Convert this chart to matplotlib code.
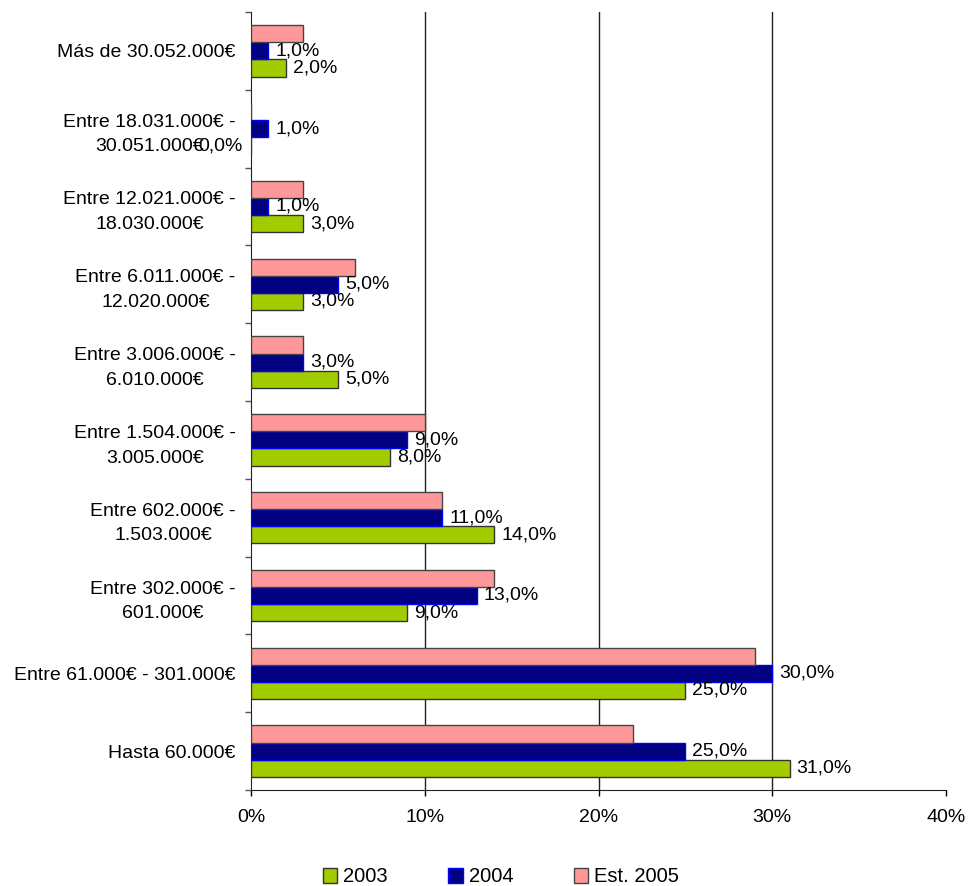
import matplotlib
matplotlib.use("Agg")
import matplotlib.pyplot as plt
import numpy as np
from matplotlib.ticker import FixedLocator, FuncFormatter

plt.rcParams['font.family'] = ['Liberation Sans', 'DejaVu Sans']

categories = [
    "Hasta 60.000€",
    "Entre 61.000€ - 301.000€",
    "Entre 302.000€ -\n601.000€",
    "Entre 602.000€ -\n1.503.000€",
    "Entre 1.504.000€ -\n3.005.000€",
    "Entre 3.006.000€ -\n6.010.000€",
    "Entre 6.011.000€ -\n12.020.000€",
    "Entre 12.021.000€ -\n18.030.000€",
    "Entre 18.031.000€ -\n30.051.000€",
    "Más de 30.052.000€",
]
series_names = ["2003", "2004", "Est. 2005"]
v2003 = [31, 25, 9, 14, 8, 5, 3, 3, 0, 2]
v2004 = [25, 30, 13, 11, 9, 3, 5, 1, 1, 1]
v2005 = [22, 29, 14, 11, 10, 3, 6, 3, 0, 3]
xticks = [0, 10, 20, 30, 40]

colors = ["#A2CC00", "#000080", "#FF9999"]
edges = ["#333333", "#0000FF", "#444444"]

fig = plt.figure(figsize=(9.69, 8.86), dpi=100)
ax = fig.add_axes([251/969, 1-790/886, (946-251)/969, (790-12)/886])

y = np.arange(len(categories))
h = 0.22
offsets = [-h, 0, h]
data = [v2003, v2004, v2005]
bars = []
for s, (vals, off) in enumerate(zip(data, offsets)):
    b = ax.barh(y + off, vals, height=h, color=colors[s], edgecolor=edges[s],
                linewidth=1.0, label=series_names[s], zorder=3)
    bars.append(b)

# data labels for 2003 and 2004
for s in [0, 1]:
    for i, v in enumerate(data[s]):
        yy = y[i] + offsets[s]
        txt = f"{v:.1f}".replace('.', ',') + "%"
        if v == 0:
            ax.annotate(txt, (0, yy), xytext=(-6, 0),
                        textcoords='offset points', ha='right', va='center',
                        fontsize=14, zorder=5, annotation_clip=False)
        else:
            ax.annotate(txt, (v, yy), xytext=(5, 0),
                        textcoords='offset points', ha='left', va='center',
                        fontsize=14, zorder=5, annotation_clip=False)

ax.set_xlim(0, 40)
ax.set_ylim(-0.5, len(categories) - 0.5)
ax.set_xticks(xticks)
ax.xaxis.set_major_formatter(FuncFormatter(lambda x, p: f"{int(x)}%"))
ax.set_yticks(y)
ax.set_yticklabels(categories)
for lbl in ax.get_yticklabels():
    lbl.set_multialignment('center')
    lbl.set_linespacing(1.6)
ax.yaxis.set_minor_locator(FixedLocator(np.arange(-0.5, len(categories), 1.0)))
ax.tick_params(axis='y', which='major', length=0, pad=11, labelsize=14)
ax.tick_params(axis='y', which='minor', length=4, width=1, color='#555555')
ax.tick_params(axis='x', which='major', length=4, width=1, pad=10, labelsize=14)

ax.grid(axis='x', color='#222222', linewidth=1.0, zorder=0)
ax.set_axisbelow(True)
gl = ax.get_xgridlines()
gl[0].set_visible(False)
gl[-1].set_visible(False)

for sp in ['top', 'right']:
    ax.spines[sp].set_visible(False)
ax.spines['left'].set_color('#222222')
ax.spines['bottom'].set_color('#222222')

fig.legend(handles=bars, labels=series_names, loc='center',
           bbox_to_anchor=(501/969, 1-877/886), ncol=3, frameon=False,
           fontsize=14.5, handlelength=0.7, handleheight=0.7, handletextpad=0.3,
           columnspacing=3.0)

fig.savefig("out.png", dpi=100)
